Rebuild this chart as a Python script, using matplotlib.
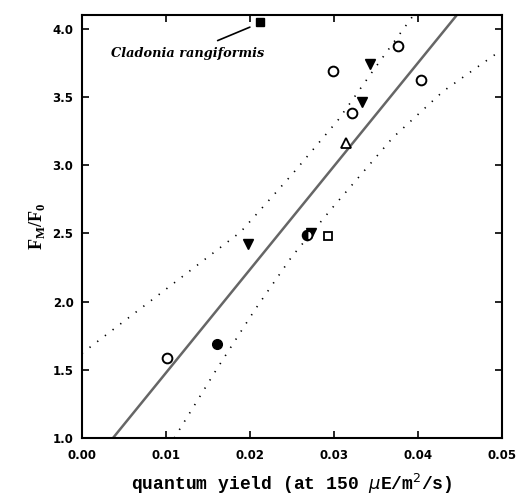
import matplotlib
matplotlib.use("Agg")
import matplotlib.pyplot as plt
import numpy as np

# open circles
circ_x = [0.0101, 0.0299, 0.0321, 0.0376, 0.0404]
circ_y = [1.59, 3.69, 3.38, 3.87, 3.62]
# filled down triangles
tri_x = [0.0198, 0.0273, 0.0333, 0.0343]
tri_y = [2.42, 2.50, 3.46, 3.74]
# single species
fcirc_x, fcirc_y = [0.0161], [1.69]
hcirc_x, hcirc_y = [0.0268], [2.49]
otri_x, otri_y = [0.0314], [3.16]
osq_x, osq_y = [0.0293], [2.48]
fsq_x, fsq_y = [0.0212], [4.05]

fit_intercept = 0.72
fit_slope = 75.7
upper_x = [0.000, 0.0100, 0.0189, 0.0250, 0.0305, 0.0350, 0.0395]
upper_y = [1.62, 2.09, 2.51, 2.93, 3.33, 3.72, 4.10]
lower_x = [0.0110, 0.0160, 0.0206, 0.0250, 0.0300, 0.0370, 0.0430, 0.0492]
lower_y = [1.00, 1.50, 1.94, 2.33, 2.70, 3.20, 3.54, 3.81]

fig = plt.figure(figsize=(5.18, 4.95), dpi=100)
ax = fig.add_axes([0.158, 0.115, 0.811, 0.855])

xl = np.array([0.0, 0.05])
ax.plot(xl, fit_intercept + fit_slope * xl, color='#666666', lw=1.8)
ax.plot(upper_x, upper_y, color='k', lw=1.2, linestyle=(0, (0.8, 5)))
ax.plot(lower_x, lower_y, color='k', lw=1.2, linestyle=(0, (0.8, 5)))

ms = 7
ax.plot(circ_x, circ_y, 'o', ms=ms, mfc='white', mec='k', mew=1.4)
ax.plot(tri_x, tri_y, 'v', ms=ms + 0.5, color='k')
ax.plot(fcirc_x, fcirc_y, 'o', ms=ms, color='k')
ax.plot(hcirc_x, hcirc_y, 'o', ms=ms, fillstyle='left', color='k',
        markerfacecoloralt='white', mew=1.3)
ax.plot(otri_x, otri_y, '^', ms=ms, mfc='white', mec='k', mew=1.3)
ax.plot(osq_x, osq_y, 's', ms=5.5, mfc='white', mec='k', mew=1.3)
ax.plot(fsq_x, fsq_y, 's', ms=6, color='k')

ax.annotate('Cladonia rangiformis', xy=(0.0200, 4.01), xytext=(0.0126, 3.82),
            ha='center', va='center', fontsize=9.3, fontstyle='italic',
            fontweight='bold', family='DejaVu Serif',
            arrowprops=dict(arrowstyle='-', color='k', lw=1.2,
                            shrinkA=6, shrinkB=0))

ax.set_xlim(0.0, 0.05)
ax.set_ylim(1.0, 4.1)
ax.set_xticks([0.00, 0.01, 0.02, 0.03, 0.04, 0.05])
ax.set_yticks([1.0, 1.5, 2.0, 2.5, 3.0, 3.5, 4.0])
ax.xaxis.set_major_formatter(matplotlib.ticker.FormatStrFormatter('%.2f'))
ax.yaxis.set_major_formatter(matplotlib.ticker.FormatStrFormatter('%.1f'))
ax.tick_params(direction='in', top=True, right=True, length=5, width=1.2,
               labelsize=8.5)
ax.tick_params(axis='x', pad=8)
ax.tick_params(axis='y', pad=6)
for lab in ax.get_xticklabels() + ax.get_yticklabels():
    lab.set_fontweight('bold')
for s in ax.spines.values():
    s.set_linewidth(1.5)

ax.set_xlabel(r'quantum yield (at 150 $\mu$E/m$^2$/s)', family='Liberation Mono',
              fontweight='bold', fontsize=13, labelpad=7)
ax.set_ylabel(r'F$_\mathregular{M}$/F$_\mathregular{0}$', family='Liberation Serif',
              fontweight='bold', fontsize=13, labelpad=4)

fig.savefig('out.png', dpi=100)
